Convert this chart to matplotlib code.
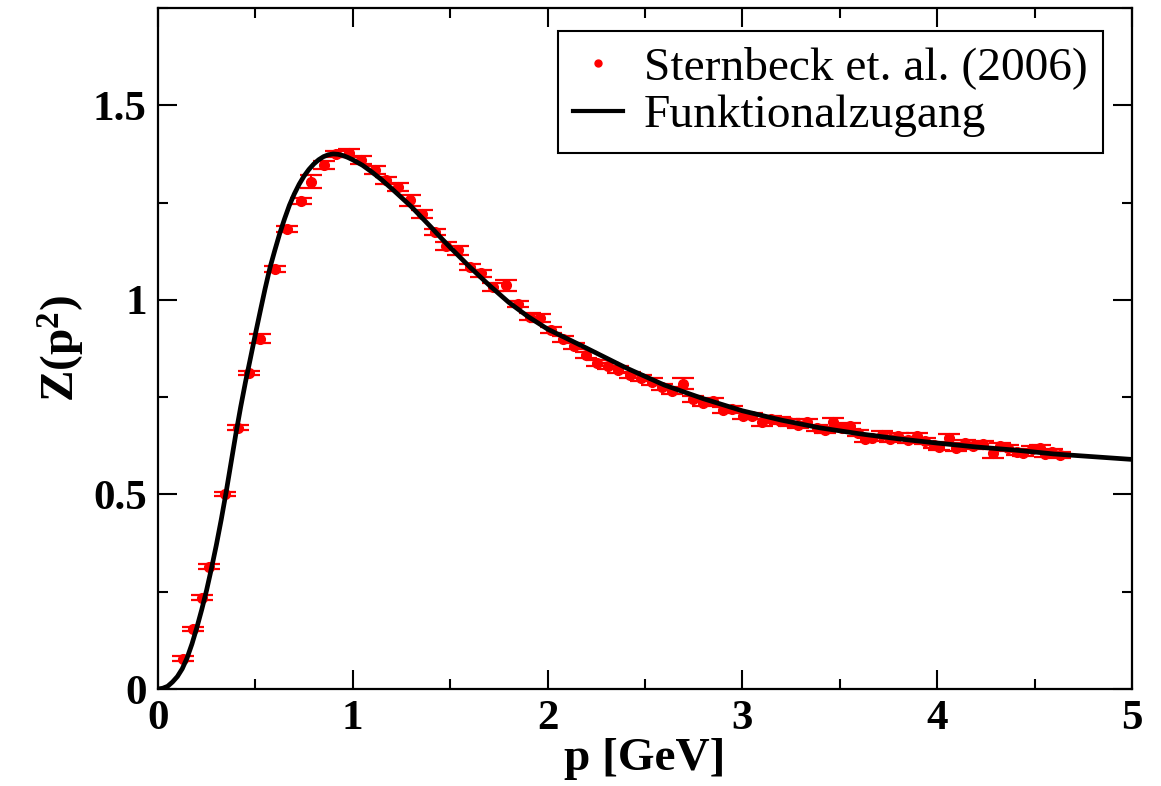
import numpy as np
import matplotlib
matplotlib.use('Agg')
import matplotlib.pyplot as plt
from matplotlib.lines import Line2D
from matplotlib.ticker import MultipleLocator

# lattice data (Sternbeck et al. 2006)
p_lat = [0.13, 0.18, 0.225, 0.26, 0.345, 0.41, 0.47, 0.525, 0.60, 0.665,
         0.735, 0.787, 0.855, 0.915, 0.98, 1.04, 1.112, 1.172, 1.232, 1.292,
         1.357, 1.42, 1.48, 1.54, 1.603, 1.66, 1.72, 1.785, 1.848, 1.908,
         1.96, 2.02, 2.08, 2.138, 2.195, 2.252, 2.312, 2.363, 2.423, 2.478,
         2.534, 2.586, 2.637, 2.693, 2.748, 2.80, 2.85, 2.902, 2.945, 3.002,
         3.048, 3.099, 3.145, 3.193, 3.241, 3.287, 3.33, 3.381, 3.424, 3.467,
         3.51, 3.555, 3.595, 3.632, 3.666, 3.715, 3.757, 3.80, 3.852, 3.895,
         3.937, 3.985, 4.012, 4.06, 4.097, 4.143, 4.186, 4.237, 4.288, 4.322,
         4.365, 4.408, 4.442, 4.485, 4.528, 4.553, 4.588, 4.63]
z_lat = [0.078, 0.154, 0.235, 0.314, 0.501, 0.672, 0.812, 0.90, 1.079, 1.183,
         1.255, 1.304, 1.346, 1.375, 1.378, 1.36, 1.334, 1.307, 1.291, 1.256,
         1.22, 1.174, 1.139, 1.127, 1.084, 1.068, 1.034, 1.037, 0.99, 0.957,
         0.953, 0.922, 0.90, 0.882, 0.859, 0.837, 0.831, 0.821, 0.807, 0.799,
         0.79, 0.776, 0.767, 0.784, 0.745, 0.734, 0.739, 0.717, 0.719, 0.702,
         0.702, 0.685, 0.693, 0.690, 0.685, 0.679, 0.685, 0.670, 0.666, 0.685,
         0.670, 0.675, 0.657, 0.643, 0.645, 0.654, 0.642, 0.649, 0.639, 0.649,
         0.637, 0.627, 0.623, 0.644, 0.619, 0.633, 0.625, 0.630, 0.606, 0.625,
         0.619, 0.610, 0.607, 0.616, 0.619, 0.604, 0.610, 0.601]
z_err = [0.006, 0.006, 0.006, 0.006, 0.006, 0.006, 0.006, 0.012, 0.008, 0.008,
         0.008, 0.017, 0.010, 0.008, 0.010, 0.010, 0.010, 0.008, 0.010, 0.014,
         0.010, 0.008, 0.010, 0.012, 0.008, 0.010, 0.010, 0.014, 0.008, 0.008,
         0.010, 0.008, 0.008, 0.008, 0.008, 0.008, 0.008, 0.008, 0.008, 0.008,
         0.008, 0.008, 0.008, 0.014, 0.008, 0.008, 0.008, 0.008, 0.008, 0.008,
         0.008, 0.008, 0.008, 0.008, 0.008, 0.008, 0.008, 0.008, 0.008, 0.012,
         0.008, 0.008, 0.008, 0.008, 0.008, 0.008, 0.008, 0.008, 0.008, 0.008,
         0.008, 0.008, 0.008, 0.012, 0.008, 0.008, 0.008, 0.008, 0.012, 0.008,
         0.008, 0.008, 0.008, 0.008, 0.008, 0.008, 0.008, 0.008]

# functional approach curve
p_fit = [0.0, 0.025, 0.05, 0.075, 0.10, 0.125, 0.15, 0.175, 0.20, 0.225,
         0.25, 0.275, 0.30, 0.325, 0.35, 0.375, 0.40, 0.425, 0.45, 0.475,
         0.50, 0.525, 0.55, 0.575, 0.60, 0.625, 0.65, 0.675, 0.70, 0.725,
         0.75, 0.775, 0.80, 0.825, 0.85, 0.875, 0.90, 0.925, 0.95, 0.975,
         1.0, 1.05, 1.1, 1.15, 1.2, 1.25, 1.3, 1.35, 1.4, 1.45,
         1.5, 1.6, 1.7, 1.8, 1.9, 2.0, 2.2, 2.4, 2.6, 2.8,
         3.0, 3.2, 3.4, 3.6, 3.8, 4.0, 4.2, 4.4, 4.6, 4.8, 5.0]
z_fit = [0.0, 0.002, 0.007, 0.018, 0.032, 0.052, 0.080, 0.116, 0.158, 0.204,
         0.254, 0.310, 0.370, 0.435, 0.505, 0.580, 0.655, 0.725, 0.790, 0.850,
         0.911, 0.970, 1.028, 1.082, 1.127, 1.170, 1.208, 1.243, 1.272, 1.297,
         1.318, 1.335, 1.349, 1.360, 1.368, 1.373, 1.375, 1.374, 1.371, 1.366,
         1.360, 1.346, 1.328, 1.308, 1.286, 1.263, 1.240, 1.214, 1.188, 1.161,
         1.135, 1.085, 1.038, 0.994, 0.957, 0.925, 0.876, 0.826, 0.781, 0.746,
         0.715, 0.691, 0.671, 0.656, 0.643, 0.632, 0.622, 0.614, 0.604, 0.597, 0.590]

plt.rcParams['font.family'] = 'Liberation Serif'
plt.rcParams['mathtext.fontset'] = 'custom'
plt.rcParams['mathtext.rm'] = 'Liberation Serif:bold'
plt.rcParams['mathtext.bf'] = 'Liberation Serif:bold'
plt.rcParams['mathtext.it'] = 'Liberation Serif:bold'

fig = plt.figure(figsize=(11.61, 7.86), dpi=100)
ax = fig.add_axes([0.136, 0.1234, 0.839, 0.8664])

ax.errorbar(p_lat, z_lat, yerr=z_err, fmt='o', color='red', ms=7,
            elinewidth=1.5, capsize=8, capthick=1.6, zorder=2)
ax.plot(p_fit, z_fit, color='black', lw=3.4, zorder=3,
        solid_capstyle='round', solid_joinstyle='round')

ax.set_xlim(0, 5)
ax.set_ylim(0, 1.75)
ax.xaxis.set_major_locator(MultipleLocator(1))
ax.xaxis.set_minor_locator(MultipleLocator(0.5))
ax.yaxis.set_minor_locator(MultipleLocator(0.25))
ax.set_yticks([0, 0.5, 1.0, 1.5])
ax.set_yticklabels(['0', '0.5', '1', '1.5'])
ax.tick_params(which='both', direction='in', top=True, right=True,
               width=1.5, labelsize=31, pad=8)
ax.tick_params(which='major', length=14)
ax.tick_params(which='minor', length=7)
for lab in ax.get_xticklabels() + ax.get_yticklabels():
    lab.set_fontweight('bold')
for s in ax.spines.values():
    s.set_linewidth(1.6)

ax.set_xlabel('p [GeV]', fontsize=34, fontweight='bold', labelpad=0)
ax.set_ylabel(r'Z(p$^{\mathbf{2}}$)', fontsize=34, fontweight='bold', labelpad=4)

handles = [Line2D([], [], ls='none', marker='o', color='red', ms=5),
           Line2D([], [], color='black', lw=3)]
leg = ax.legend(handles, ['Sternbeck et. al. (2006)', 'Funktionalzugang'],
                loc='upper right', bbox_to_anchor=(0.970, 0.966),
                fontsize=34.1, frameon=True, fancybox=False, framealpha=1,
                edgecolor='black', borderaxespad=0, borderpad=0.32,
                handlelength=1.05, handletextpad=0.45, labelspacing=0.1)
leg.get_frame().set_linewidth(1.5)

fig.savefig('out.png', dpi=100)
